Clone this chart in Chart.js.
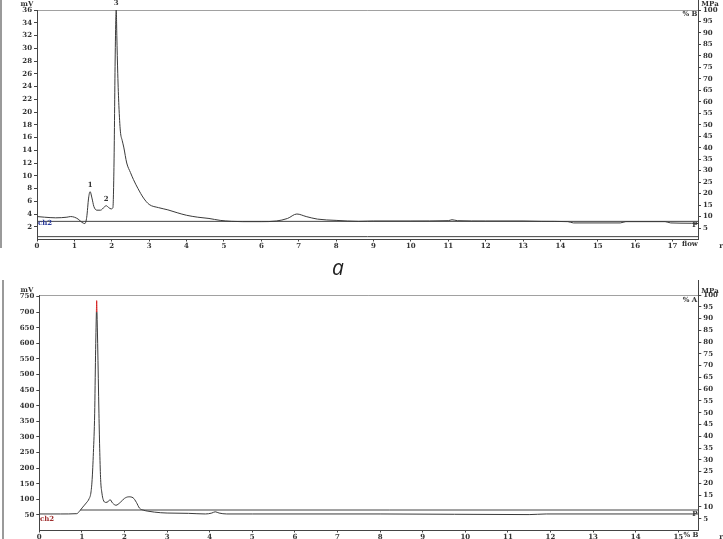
<!DOCTYPE html>
<html><head><meta charset="utf-8">
<script src="https://cdn.jsdelivr.net/npm/chart.js@4"></script>
<style>
html,body{margin:0;padding:0;background:#fff;width:723px;height:539px;overflow:hidden;position:relative}
canvas{position:absolute;left:0}
#c1{top:0}
#c2{top:280px}
.t{position:absolute;transform:translate(-50%,-50%);font:bold 7px "DejaVu Serif",serif;color:#333;white-space:nowrap;line-height:1}
.bar{position:absolute;background:#9a9a9a;width:2px}
</style></head>
<body>
<canvas id="c1" width="723" height="252"></canvas>
<canvas id="c2" width="723" height="259"></canvas>
<div class="bar" style="left:0;top:0;height:248px"></div>
<div class="bar" style="left:2px;top:280px;height:259px"></div>

<span class="t" style="left:27px;top:3px">mV</span>
<span class="t" style="left:710px;top:3px">MPa</span>
<span class="t" style="left:690px;top:13px">% B</span>
<span class="t" style="left:695px;top:224px">P</span>
<span class="t" style="left:45px;top:222px;color:#2a3a9a">ch2</span>
<span class="t" style="left:690px;top:243px">flow</span>
<span class="t" style="left:721px;top:245px">r</span>
<span class="t" style="left:338px;top:267px;font:italic 21px 'Open Sans',sans-serif;color:#222">a</span>
<span class="t" style="left:27px;top:289px">mV</span>
<span class="t" style="left:710px;top:290px">MPa</span>
<span class="t" style="left:690px;top:299px">% A</span>
<span class="t" style="left:695px;top:513px">P</span>
<span class="t" style="left:47px;top:518px;color:#a03030">ch2</span>
<span class="t" style="left:691px;top:534px">% B</span>
<span class="t" style="left:721px;top:536px">r</span>

<script>
// ---------- data: panel a (top) ----------
const topTime   = [0,0.2,0.5,0.8,0.9,1.0,1.1,1.2,1.28,1.33,1.38,1.42,1.47,1.52,1.6,1.7,1.8,1.85,1.92,1.98,2.03,2.06,2.09,2.11,2.12,2.135,2.16,2.19,2.23,2.28,2.32,2.4,2.5,2.58,2.7,2.85,3.0,3.25,3.5,3.75,4.0,4.3,4.6,4.9,5.2,5.5,6.0,6.4,6.7,6.95,7.2,7.5,8.0,8.6,9.0,10.0,11.0,11.1,11.25,12.0,13.0,13.5,14.2,14.35,15.6,15.75,16.8,16.95,17.5,17.68];
const topSignal = [3.6,3.5,3.4,3.5,3.6,3.5,3.2,2.7,2.5,3.5,6.5,7.5,6.5,5.2,4.6,4.6,5.1,5.3,5.0,4.8,5.0,12,28,35,36,32,26,21,17,15.5,14.5,12,10.5,9.4,8.0,6.5,5.5,5.0,4.65,4.2,3.8,3.5,3.3,3.0,2.85,2.8,2.8,2.9,3.3,4.0,3.6,3.2,3.0,2.85,2.9,2.9,2.95,3.1,2.95,2.9,2.9,2.85,2.8,2.6,2.6,2.8,2.8,2.6,2.55,2.5];
const topRange      = [0,17.68];
const topPercentB   = [100,100];
const topPressure   = [7.9,7.9];
const topZeroLine   = [0.45,0.45];
const topPeakTimes  = [1.42,1.85,2.12];
const topPeakValues = [7.5,5.3,36];
const topPeakNames  = ['1','2','3'];
const topXTicks     = [0,1,2,3,4,5,6,7,8,9,10,11,12,13,14,15,16,17];
const topLeftTicks  = [2,4,6,8,10,12,14,16,18,20,22,24,26,28,30,32,34,36];
const topRightTicks = [5,10,15,20,25,30,35,40,45,50,55,60,65,70,75,80,85,90,95,100];

// ---------- data: bottom panel ----------
const botTime   = [0,0.5,0.88,0.95,1.02,1.1,1.17,1.21,1.24,1.27,1.30,1.32,1.340,1.347,1.354,1.37,1.40,1.42,1.44,1.47,1.50,1.56,1.62,1.66,1.72,1.80,1.90,2.0,2.1,2.2,2.28,2.35,2.45,2.55,2.7,2.85,3.0,3.5,3.9,4.05,4.13,4.22,4.4,5,8,11.5,11.9,15.47];
const botSignal = [53,53,54,63,75,88,102,120,163,250,376,560,700,737,700,600,376,250,163,120,99,90,93,99,88,81,90,103,108,105,90,72,65,62,59,57,56,55,53,56,60,56,53,53,53,51,53,53];
const botRange        = [0,15.47];
const botPressureTime = [0.96,15.47];
const botPercentA     = [100,100];
const botPressure     = [8.7,8.7];
const botXTicks     = [0,1,2,3,4,5,6,7,8,9,10,11,12,13,14,15];
const botLeftTicks  = [50,100,150,200,250,300,350,400,450,500,550,600,650,700,750];
const botRightTicks = [5,10,15,20,25,30,35,40,45,50,55,60,65,70,75,80,85,90,95,100];

const INK = '#3a3a3a', AX = '#444', LAB = '#333';
const tickFont = {family:'DejaVu Serif', size:7, weight:'bold'};
const pts = (xs, ys) => xs.map((x,i)=>({x, y: ys[i]}));

function axisX(min, max, ticks, h){
  return {type:'linear', min, max,
    afterBuildTicks: s => { s.ticks = ticks.map(v=>({value:v})); },
    afterFit: s => { s.height = h; },
    grid:{drawOnChartArea:false, drawTicks:true, tickLength:2, color:AX},
    border:{display:true, color:AX, width:1},
    ticks:{padding:0, font:tickFont, color:LAB, maxRotation:0, autoSkip:false}};
}
function axisY(pos, min, max, ticks, w){
  return {type:'linear', position:pos, min, max,
    afterBuildTicks: s => { s.ticks = ticks.map(v=>({value:v})); },
    afterFit: s => { s.width = w; },
    grid:{drawOnChartArea:false, drawTicks:true, tickLength:3, color:AX},
    border:{display:true, color:AX, width:1},
    ticks:{padding:2, font:tickFont, color:LAB, autoSkip:false}};
}

const extras = {
  id:'extras',
  afterDraw(chart, args, opts){
    const ctx = chart.ctx, a = chart.chartArea;
    ctx.save();
    ctx.strokeStyle = AX; ctx.lineWidth = 1;
    ctx.beginPath();
    ctx.moveTo(Math.round(a.right)+0.5, 0);
    ctx.lineTo(Math.round(a.right)+0.5, a.top);
    ctx.stroke();
    if (opts.peaks){
      const xs = chart.scales.x, ys = chart.scales.y;
      ctx.fillStyle = LAB; ctx.font = 'bold 7px "DejaVu Serif"';
      ctx.textAlign = 'center'; ctx.textBaseline = 'bottom';
      opts.peaks.t.forEach((t,i)=>{
        const py = Math.max(ys.getPixelForValue(opts.peaks.v[i]), a.top);
        ctx.fillText(opts.peaks.n[i], xs.getPixelForValue(t), py - 3);
      });
    }
    ctx.restore();
  }
};

const common = {animation:false, responsive:false, events:[]};

new Chart(document.getElementById('c1'), {
  type:'line',
  data:{datasets:[
    {label:'ch2', data:pts(topTime, topSignal), yAxisID:'y', borderColor:INK, borderWidth:1, pointRadius:0, cubicInterpolationMode:'monotone'},
    {label:'% B', data:pts(topRange, topPercentB), yAxisID:'y2', borderColor:AX, borderWidth:1, pointRadius:0},
    {label:'P', data:pts(topRange, topPressure), yAxisID:'y2', borderColor:AX, borderWidth:1, pointRadius:0},
    {label:'base', data:pts(topRange, topZeroLine), yAxisID:'y', borderColor:AX, borderWidth:1, pointRadius:0}
  ]},
  options:Object.assign({}, common, {
    layout:{padding:{top:10, left:0, right:0, bottom:0}},
    plugins:{legend:{display:false}, tooltip:{enabled:false},
      extras:{peaks:{t:topPeakTimes, v:topPeakValues, n:topPeakNames}}},
    scales:{
      x: axisX(topRange[0], topRange[1], topXTicks, 12.5),
      y: axisY('left', 0, 36, topLeftTicks, 37),
      y2: axisY('right', 0, 100, topRightTicks, 25)
    }
  }),
  plugins:[extras]
});

new Chart(document.getElementById('c2'), {
  type:'line',
  data:{datasets:[
    {label:'ch2', data:pts(botTime, botSignal), yAxisID:'y', borderColor:INK, borderWidth:1, pointRadius:0, cubicInterpolationMode:'monotone',
      segment:{borderColor: c => (c.p0.parsed.y >= 690 && c.p1.parsed.y >= 690) ? '#d42020' : INK}},
    {label:'% A', data:pts(botRange, botPercentA), yAxisID:'y2', borderColor:AX, borderWidth:1, pointRadius:0},
    {label:'P', data:pts(botPressureTime, botPressure), yAxisID:'y2', borderColor:AX, borderWidth:1, pointRadius:0}
  ]},
  options:Object.assign({}, common, {
    layout:{padding:{top:15, left:0, right:0, bottom:0}},
    plugins:{legend:{display:false}, tooltip:{enabled:false}, extras:{}},
    scales:{
      x: axisX(botRange[0], botRange[1], botXTicks, 8.5),
      y: axisY('left', 0, 755, botLeftTicks, 39.3),
      y2: axisY('right', 0, 100, botRightTicks, 24.7)
    }
  }),
  plugins:[extras]
});
</script>
</body></html>
